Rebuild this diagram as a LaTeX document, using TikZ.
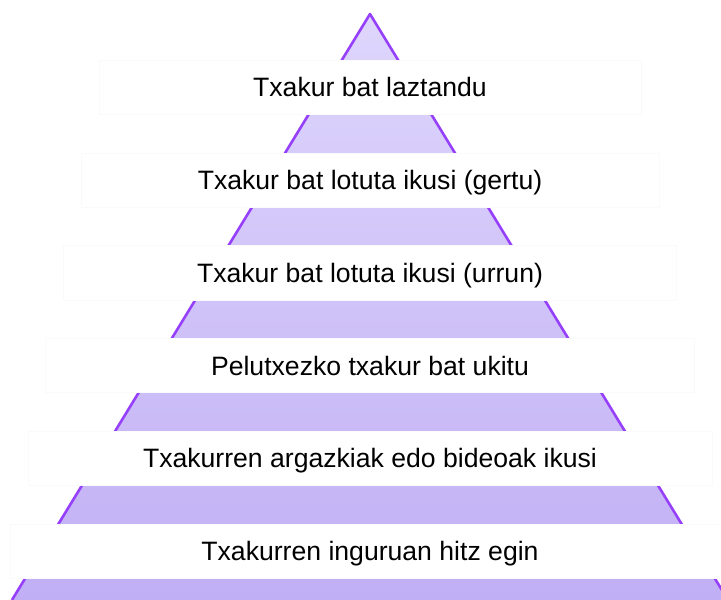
\documentclass[tikz,border=0pt]{standalone}
\usepackage{fontspec}
\setmainfont{Liberation Sans}
\definecolor{pyrtop}{RGB}{222,214,252}
\definecolor{pyrbottom}{RGB}{193,175,245}
\definecolor{pyredge}{RGB}{150,64,252}
\definecolor{boxline}{RGB}{250,250,251}
\begin{document}
\begin{tikzpicture}[x = 1pt, y = -1pt, line join = round,
        edge/.style = {pyredge, line width = 2.6pt},
        labelband/.style = {fill = white, draw = boxline, line width = 0.5pt},
        labeltext/.style = {anchor = base, inner sep = 0pt, font = \fontsize{26.6}{30}\selectfont}]
        %
        \def\Apex{370}
        \def\Slope{0.611}
        \def\Gap{92.8}
        \def\BandHeight{54.3}
        %
        \useasboundingbox (0, 0) rectangle (721, 600);
        \clip (0, 0) rectangle (721, 600);

        % pyramid
        \coordinate (apex) at (\Apex, 14);
        \coordinate (baseleft) at (\Apex - \Slope * 586, 600);
        \coordinate (baseright) at (\Apex + \Slope * 586, 600);
        \shade [top color = pyrtop, bottom color = pyrbottom] (apex) -- (baseleft) -- (baseright) -- cycle;
        \draw [edge] (baseleft) -- (apex) -- (baseright);

        % label bands
        \foreach[count = \i] \txt/\BandWidth in {Txakur bat laztandu/542, Txakur bat lotuta ikusi (gertu)/578, Txakur bat lotuta ikusi (urrun)/613, Pelutxezko txakur bat ukitu/649, Txakurren argazkiak edo bideoak ikusi/684, Txakurren inguruan hitz egin/720}
        {
            \pgfmathsetmacro\BandTop{60 + (\i - 1) * \Gap}
            \draw [labelband] (\Apex - \BandWidth / 2, \BandTop) rectangle ++(\BandWidth, \BandHeight);
            \node [labeltext] (label\i) at (\Apex, \BandTop + \BandHeight / 2 + 9.5) {\txt};
        }
    \end{tikzpicture}
\end{document}
